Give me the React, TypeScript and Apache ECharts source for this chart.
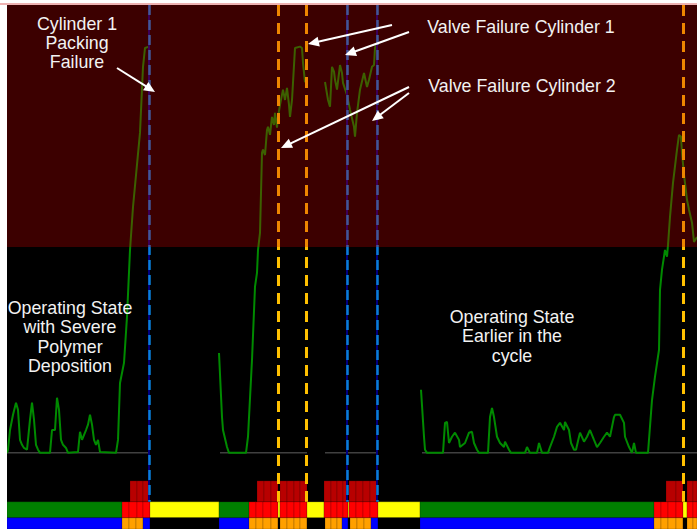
import React, { useEffect, useRef } from "react";
import * as echarts from "echarts";

// ---- data: sensor trace (time index, health index value) ----
const traceBeforePackingFailure: number[][] = [
  [7, 0], [8, 0.7], [10, 5.1], [13, 8.5], [16, 11.2], [18, 9.6], [20, 2.9], [22, 1.8], [24, 1.1],
  [27, 0.7], [30, 7.4], [32, 11.2], [34, 7.4], [36, 1.8], [38, 0.7], [40, 0], [50, 0], [52, 5.1],
  [55, 5.1], [57, 12.3], [59, 9.6], [61, 2.9], [63, 1.8], [66, 1.1], [68, 0], [78, 0.2], [80, 4.7],
  [82, 2.9], [86, 5.1], [88, 6.3], [90, 8.5], [92, 6.3], [94, 2.9], [96, 1.8], [98, 2.9], [100, 0.2],
  [116, 0], [118, 2.9], [120, 15.6], [124, 20.1], [127, 30.4], [130, 45.3], [133, 54.9], [140, 71.5],
  [143, 86.2], [145, 90.4], [149, 90.7],
];
const traceCylinder1Valve: number[][] = [
  [219, 22.3], [222, 8.0], [223, 5.1], [227, 1.3], [229, 0], [246, 0], [248, 3.6], [252, 20.8],
  [255, 37.1], [257, 40.2], [258, 45.3], [260, 49.1], [262, 67.0], [263, 67.7], [265, 66.5],
  [267, 72.1], [268, 72.8], [270, 71.0], [272, 75.0], [274, 73.2], [275, 75.9], [277, 72.6],
  [278, 75.0], [280, 77.7], [283, 81.1], [285, 78.8], [287, 81.5], [289, 77.7], [290, 75.0],
  [292, 78.8], [295, 90.4], [300, 90.7], [302, 90.4], [303, 87.1], [305, 82.8], [306, 83.3],
];
const traceCylinder2Valve: number[][] = [
  [325, 82.8], [328, 78.8], [330, 77.3], [332, 86.2], [334, 85.1], [335, 83.3], [337, 81.1],
  [340, 86.6], [342, 84.8], [343, 82.6], [347, 79.9], [350, 76.6], [354, 72.8], [355, 70.6],
  [357, 75.9], [360, 81.1], [364, 84.8], [367, 81.7], [369, 83.3], [372, 86.2], [374, 86.6],
  [375, 90.4], [377, 91.5],
];
const traceEarlierCycle: number[][] = [
  [421, 14.1], [424, 3.6], [425, 0.7], [427, 0], [443, 0], [445, 6.7], [447, 6.9], [449, 2.2],
  [452, 3.6], [455, 4.5], [459, 2.9], [460, 1.3], [465, 2.2], [469, 4.5], [472, 4.7], [474, 2.2],
  [477, 0.7], [479, 0], [488, 0], [490, 8.0], [492, 10.0], [494, 8.0], [497, 3.6], [500, 2.2],
  [504, 1.3], [505, 2.5], [509, 0.7], [511, 0], [525, 0], [527, 1.3], [530, 0], [537, 0],
  [539, 2.2], [542, 0], [548, 0], [550, 1.3], [554, 3.6], [557, 5.8], [560, 6.7], [564, 5.1],
  [565, 6.9], [569, 5.1], [571, 2.2], [574, 0.7], [576, 0.7], [579, 3.6], [580, 4.5], [584, 2.5],
  [587, 3.6], [590, 5.1], [594, 2.9], [597, 1.3], [600, 2.2], [604, 3.6], [607, 4.5], [610, 3.6],
  [614, 8.0], [615, 8.5], [620, 8.5], [624, 6.7], [625, 3.6], [629, 1.3], [632, 0], [634, 2.2],
  [636, 0], [648, 0], [652, 11.8], [655, 17.0], [659, 23.0], [660, 36.4], [662, 40.9], [665, 45.3],
  [667, 43.8], [668, 46.4], [670, 52.7], [673, 60.3], [677, 67.7], [679, 71.0], [681, 70.6],
  [682, 67.0], [684, 62.1], [687, 56.5], [689, 54.3], [692, 51.4], [694, 47.1], [697, 48.2],
];
const baselineSpans: number[][] = [[7, 150], [220, 307], [325, 377], [422, 697]];

// failure markers (time index)
const valveMarkers: number[] = [278, 306, 683];
const packingMarkers: number[] = [149, 347, 377];

// ---- state strips: [start, end, code] ----
const alarmRow: [number, number, string][] = [
  [130, 137, "A"], [137, 143, "A"], [143, 150, "A"],
  [257, 264, "A"], [264, 271, "A"], [271, 278, "A"],
  [280, 287, "A"], [287, 294, "A"], [294, 300, "A"], [300, 307, "A"],
  [324, 331, "A"], [331, 337, "A"], [337, 343, "A"], [343, 347, "A"],
  [349, 356, "A"], [356, 363, "A"], [363, 370, "A"], [370, 378, "A"],
  [666, 676, "A"], [676, 683, "A"], [687, 693, "A"], [693, 697, "A"],
];
const stateRow: [number, number, string][] = [
  [7, 122, "G"],
  [122, 129, "R"], [129, 137, "R"], [137, 143, "R"], [143, 150, "R"],
  [150, 219, "Y"],
  [219, 249, "G"],
  [249, 256, "R"], [256, 263, "R"], [263, 271, "R"], [271, 278, "R"],
  [278, 280, "Y"],
  [280, 287, "R"], [287, 294, "R"], [294, 300, "R"], [300, 307, "R"],
  [307, 324, "Y"],
  [324, 331, "R"], [331, 337, "R"], [337, 343, "R"], [343, 348, "R"],
  [348, 349, "Y"],
  [349, 356, "R"], [356, 363, "R"], [363, 370, "R"], [370, 378, "R"],
  [378, 420, "Y"],
  [420, 654, "G"],
  [654, 661, "R"], [661, 668, "R"], [668, 676, "R"], [676, 683, "R"],
  [683, 687, "Y"],
  [687, 693, "R"], [693, 697, "R"],
];
const modeRow: [number, number, string][] = [
  [7, 122, "B"],
  [122, 129, "O"], [129, 136, "O"], [136, 143, "O"],
  [143, 150, "B"],
  [150, 219, "K"],
  [219, 249, "B"],
  [249, 256, "O"], [256, 263, "O"], [263, 271, "O"], [271, 278, "O"],
  [278, 280, "K"],
  [280, 287, "O"], [287, 294, "O"], [294, 300, "O"], [300, 307, "O"],
  [307, 325, "K"],
  [325, 331, "O"], [331, 337, "O"], [337, 342, "O"],
  [342, 348, "B"],
  [348, 350, "K"],
  [350, 357, "O"], [357, 364, "O"], [364, 371, "O"],
  [371, 378, "B"],
  [378, 420, "K"],
  [420, 654, "B"],
  [654, 661, "O"], [661, 668, "O"], [668, 676, "O"], [676, 683, "O"],
  [683, 687, "K"],
  [687, 693, "O"], [693, 697, "O"],
];

// ---- layout / style constants ----
const CODE_COLORS: Record<string, string> = {
  A: "#b80000", G: "#008000", R: "#ff0000", Y: "#ffff00", B: "#0000ff", O: "#ffa000", K: "#000000",
};
const ROW_BANDS: number[][] = [[-6.25, -10.94], [-10.94, -14.51], [-14.51, -17]];
const LINE_GREEN = "#008a00";
const TEXT_COLOR = "#f2f2f2";
const FONT = '17.8px "Liberation Sans", Arial, sans-serif';

function arrow(x0: number, y0: number, x1: number, y1: number): any[] {
  const dx = x1 - x0, dy = y1 - y0;
  const len = Math.sqrt(dx * dx + dy * dy);
  const ux = dx / len, uy = dy / len;
  const nx = -uy, ny = ux;
  const L = 11, W = 5;
  const bx = x1 - ux * L, by = y1 - uy * L;
  return [
    { type: "line", z: 120, silent: true, shape: { x1: x0, y1: y0, x2: bx + ux * 2, y2: by + uy * 2 }, style: { stroke: "#ffffff", lineWidth: 2 } },
    { type: "polygon", z: 120, silent: true, shape: { points: [[x1, y1], [bx + nx * W, by + ny * W], [bx - nx * W, by - ny * W]] }, style: { fill: "#ffffff" } },
  ];
}

export default function App() {
  const ref = useRef<HTMLDivElement>(null);
  useEffect(() => {
    if (!ref.current) return;
    const chart = echarts.init(ref.current, null, { renderer: "svg" });

    const stripItems: { v: number[]; c: string }[] = [];
    [alarmRow, stateRow, modeRow].forEach((row, ri) => {
      row.forEach(([s, e, code]) => stripItems.push({ v: [s, e, ri], c: CODE_COLORS[code] }));
    });

    const lineSeries = [traceBeforePackingFailure, traceCylinder1Valve, traceCylinder2Valve, traceEarlierCycle].map((d) => ({
      type: "line",
      data: d,
      showSymbol: false,
      symbol: "none",
      z: 4,
      lineStyle: { color: LINE_GREEN, width: 2 },
    }));

    const baselineSeries = baselineSpans.map(([s, e]) => ({
      type: "line",
      data: [[s, 0], [e, 0]],
      symbol: "none",
      z: 3,
      lineStyle: { color: "#404040", width: 1.5 },
    }));

    const markData: any[] = [];
    packingMarkers.forEach((x) => {
      markData.push([{ coord: [x, 100], lineStyle: { color: "#000080", width: 2, type: "solid" } }, { coord: [x, -10.94] }]);
      markData.push([{ coord: [x, 100], lineStyle: { color: "#0a7ed6", width: 2.5, type: [10, 5] } }, { coord: [x, -10.94] }]);
    });
    valveMarkers.forEach((x) => {
      markData.push([{ coord: [x, 100], lineStyle: { color: "#ffc000", width: 3, type: [11, 7] } }, { coord: [x, -10.94] }]);
    });

    const graphics: any[] = [
      { type: "rect", z: 100, silent: true, shape: { x: 0, y: 3, width: 697, height: 244 }, style: { fill: "rgba(200,0,0,0.3)" } },
      { type: "rect", z: 101, silent: true, shape: { x: 0, y: 5, width: 7, height: 524 }, style: { fill: "#ffffff" } },
      { type: "text", z: 120, x: 77, y: 43, style: { text: "Cylinder 1\nPacking\nFailure", fill: TEXT_COLOR, font: FONT, align: "center", verticalAlign: "middle", lineHeight: 19 } },
      { type: "text", z: 120, x: 521, y: 27, style: { text: "Valve Failure Cylinder 1", fill: TEXT_COLOR, font: FONT, align: "center", verticalAlign: "middle" } },
      { type: "text", z: 120, x: 522, y: 86, style: { text: "Valve Failure Cylinder 2", fill: TEXT_COLOR, font: FONT, align: "center", verticalAlign: "middle" } },
      { type: "text", z: 120, x: 70, y: 337, style: { text: "Operating State\nwith Severe\nPolymer\nDeposition", fill: TEXT_COLOR, font: FONT, align: "center", verticalAlign: "middle", lineHeight: 19.3 } },
      { type: "text", z: 120, x: 512, y: 336, style: { text: "Operating State\nEarlier in the\ncycle", fill: TEXT_COLOR, font: FONT, align: "center", verticalAlign: "middle", lineHeight: 19.5 } },
      ...arrow(117, 68, 155, 92),
      ...arrow(392, 25, 308, 44),
      ...arrow(409, 32, 345, 55),
      ...arrow(409, 87, 281, 148),
      ...arrow(409, 93, 372, 121),
    ];

    chart.setOption({
      animation: false,
      backgroundColor: "#ffffff",
      grid: { left: 7, right: 0, top: 5, bottom: 0, show: true, backgroundColor: "#000000", borderWidth: 0, containLabel: false },
      xAxis: { type: "value", min: 7, max: 697, show: false },
      yAxis: { type: "value", min: -17, max: 100, show: false },
      series: [
        {
          type: "custom",
          z: 1,
          data: stripItems.map((d) => d.v),
          encode: { x: [0, 1], y: 2 },
          renderItem: (params: any, api: any) => {
            const item = stripItems[params.dataIndex];
            const band = ROW_BANDS[api.value(2)];
            const p0 = api.coord([api.value(0), band[0]]);
            const p1 = api.coord([api.value(1), band[1]]);
            return {
              type: "rect",
              shape: { x: p0[0], y: p0[1], width: p1[0] - p0[0], height: p1[1] - p0[1] },
              style: { fill: item.c, stroke: "rgba(0,0,0,0.3)", lineWidth: 0.6 },
            };
          },
        },
        ...baselineSeries,
        ...lineSeries,
        {
          type: "line",
          z: 5,
          data: [[7, 0]],
          symbol: "none",
          lineStyle: { opacity: 0 },
          markLine: { symbol: ["none", "none"], silent: true, label: { show: false }, animation: false, data: markData },
        },
      ],
      graphic: graphics,
    });
    return () => chart.dispose();
  }, []);
  return <div ref={ref} style={{ position: "fixed", left: 0, top: 0, width: 697, height: 529 }} />;
}
